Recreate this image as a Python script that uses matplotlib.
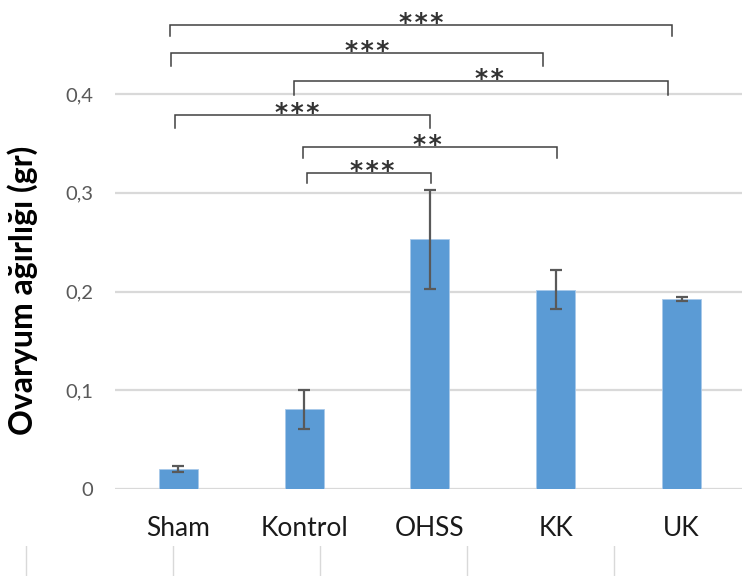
import matplotlib
matplotlib.use("Agg")
import matplotlib.pyplot as plt
import numpy as np

plt.rcParams['font.family'] = ['Lato', 'DejaVu Sans']

# Ovary weight per group (gr), mean and error
groups = ["Sham", "Kontrol", "OHSS", "KK", "UK"]
weights = [0.021, 0.081, 0.253, 0.202, 0.193]
errors = [0.003, 0.020, 0.050, 0.020, 0.002]
y_ticks = [0, 0.1, 0.2, 0.3, 0.4]
y_tick_labels = ["0", "0,1", "0,2", "0,3", "0,4"]

# Significance brackets: (left x, right x, bar height, tick bottom, label x, label)
brackets = [
    (-0.068, 3.923, 0.4702, 0.4588, 1.928, "***"),
    (-0.060, 2.900, 0.4413, 0.4284, 1.498, "***"),
    (0.918, 3.891, 0.4136, 0.3991, 2.476, "**"),
    (-0.028, 1.999, 0.3788, 0.3657, 0.942, "***"),
    (0.990, 3.013, 0.3468, 0.3353, 1.983, "**"),
    (1.026, 2.005, 0.3198, 0.3103, 1.538, "***"),
]

W, H = 742, 576
fig = plt.figure(figsize=(W / 100, H / 100), dpi=100)
ax = fig.add_axes([115.3 / W, (H - 489.3) / H, 1 - 115.3 / W, 489.3 / H])

x = np.arange(len(groups))
ax.bar(x, weights, width=0.31, color="#5B9BD5", edgecolor="#a8c9ea",
       linewidth=0.6, zorder=3)
ax.errorbar(x, weights, yerr=errors, fmt="none", ecolor="#595959",
            elinewidth=1.6, capsize=4.3, capthick=1.6, zorder=4)

ax.set_xlim(-0.5, 4.48)
ax.set_ylim(0, 0.4952)
ax.set_yticks(y_ticks)
ax.set_yticklabels(y_tick_labels)
ax.set_xticks(x)
ax.set_xticklabels(groups)

for s in ax.spines.values():
    s.set_visible(False)
ax.yaxis.grid(True, color="#d9d9d9", linewidth=1.6, zorder=0)
ax.set_axisbelow(True)
ax.tick_params(axis="y", length=0, pad=16, labelsize=14.5, labelcolor="#595959")
ax.tick_params(axis="x", length=0, pad=19, labelsize=19, labelcolor="#1a1a1a")

ax.set_ylabel("Ovaryum ağırlığı (gr)", fontsize=23, fontweight="bold",
              color="#000000")
ax.yaxis.set_label_coords(-(115.3 - 38) / (W - 115.3), (489.3 - 290) / 489.3)

for x0, x1, yl, yb, xt, lab in brackets:
    ax.plot([x0, x0, x1, x1], [yb, yl, yl, yb], color="#404040",
            linewidth=1.1, solid_joinstyle="miter", zorder=5, clip_on=False)
    ax.text(xt, yl - 0.005, "\u200a".join(lab), ha="center", va="baseline",
            fontsize=18, family="DejaVu Sans", fontweight="bold",
            color="#333333", zorder=6)

# Separators of the row underneath the chart
sep = fig.add_axes([0, 0, 1, 30 / H])
sep.set_xlim(0, W)
sep.set_ylim(0, 1)
sep.axis("off")
for k in range(5):
    sep.axvline(26 + 147 * k, color="#d9d9d9", linewidth=1.0)

fig.savefig("out.png", dpi=100)
